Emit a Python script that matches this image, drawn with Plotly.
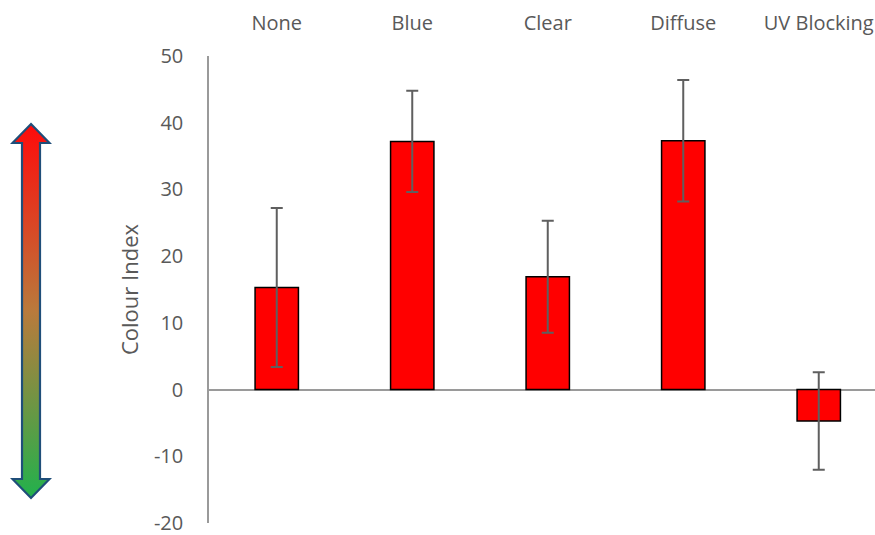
import plotly.graph_objects as go
import base64

categories = ["None", "Blue", "Clear", "Diffuse", "UV Blocking"]
values = [15.3, 37.2, 16.9, 37.3, -4.7]
errors = [11.9, 7.6, 8.4, 9.1, 7.3]
y_ticks = [-20, -10, 0, 10, 20, 30, 40, 50]
y_tick_labels = ["-20", "-10", "0", "10", "20", "30", "40", "50"]

FONT = "Open Sans"
GREY = "#595959"
FS = 20

fig = go.Figure()
fig.add_trace(go.Bar(
    x=categories, y=values, width=0.32,
    marker=dict(color="#ff0000", line=dict(color="#000000", width=1.5)),
    error_y=dict(type="data", array=errors, visible=True,
                 color="#5f5f5f", thickness=2, width=6),
))

# gradient double arrow (decoration) via SVG image
svg = (
    '<svg xmlns="http://www.w3.org/2000/svg" width="42" height="378" viewBox="0 0 42 378" preserveAspectRatio="none">'
    '<defs><linearGradient id="g" x1="0" y1="0" x2="0" y2="1">'
    '<stop offset="0" stop-color="#ff0a0a"/>'
    '<stop offset="0.5" stop-color="#b97a3c"/>'
    '<stop offset="1" stop-color="#22b14c"/>'
    '</linearGradient></defs>'
    '<path d="M21,2 L39.5,21 L30,21 L30,357 L39.5,357 L21,376 L2.5,357 L12,357 L12,21 L2.5,21 Z" '
    'fill="url(#g)" stroke="#1f4e79" stroke-width="2.2" stroke-linejoin="miter"/>'
    '</svg>'
)
src = "data:image/svg+xml;base64," + base64.b64encode(svg.encode()).decode()

W, H = 875, 535
ml, mt, mb = 209, 56, 12
pw = W - ml
ph = H - mt - mb

def px_x(x):
    return (x - ml) / pw

def px_y(y):
    return (H - mb - y) / ph

fig.add_layout_image(dict(
    source=src, xref="paper", yref="paper",
    x=px_x(10), y=px_y(122), sizex=42 / pw, sizey=378 / ph,
    xanchor="left", yanchor="top", sizing="stretch", layer="above",
))

fig.update_layout(
    width=W, height=H,
    margin=dict(l=ml, r=0, t=mt, b=mb),
    plot_bgcolor="white", paper_bgcolor="white",
    showlegend=False,
    font=dict(family=FONT, size=FS, color=GREY),
    xaxis=dict(
        side="top", type="category",
        range=[-0.5, -0.5 + pw / 135.5],
        showline=False, showgrid=False, zeroline=False,
        ticks="", ticklabelstandoff=21, ticklabeloverflow="allow",
        tickfont=dict(family=FONT, size=FS, color=GREY),
    ),
    yaxis=dict(
        range=[-20, 50], tickvals=y_ticks, ticktext=y_tick_labels,
        showgrid=False, showline=True, linecolor="#9a9a9a", linewidth=1.5,
        zeroline=True, zerolinecolor="#9a9a9a", zerolinewidth=1.5,
        ticks="", ticklabelstandoff=20, ticklabeloverflow="allow",
        tickfont=dict(family=FONT, size=FS, color=GREY),
        title=dict(text="Colour Index", standoff=9,
                   font=dict(family=FONT, size=22, color=GREY)),
    ),
)

fig.write_html("out.html", config={"displayModeBar": False},
               post_script="document.body.style.margin='0px';document.body.style.overflow='hidden';")
